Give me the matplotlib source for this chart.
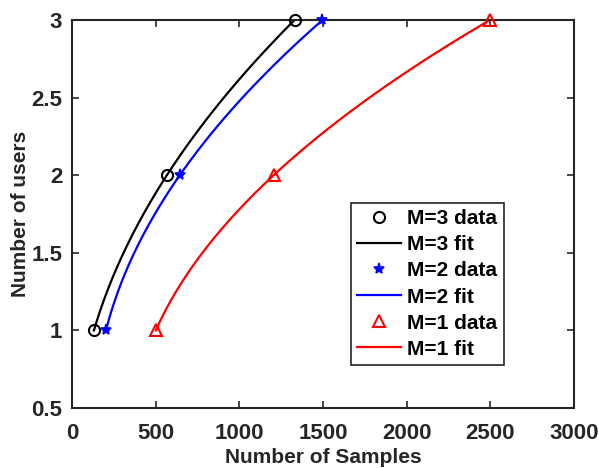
import numpy as np
import matplotlib
matplotlib.use("Agg")
import matplotlib.pyplot as plt

plt.rcParams['font.family'] = ['Liberation Sans', 'DejaVu Sans']
plt.rcParams['font.weight'] = 'bold'

users = [1, 2, 3]
samples_m3 = [131, 567, 1330]
samples_m2 = [203, 644, 1497]
samples_m1 = [501, 1205, 2498]

DARK = '#262626'


def fit_curve(xs, ys):
    # quadratic of samples in users, drawn as a smooth fit through the points
    coef = np.polyfit(ys, xs, 2)
    yy = np.linspace(min(ys), max(ys), 200)
    return np.polyval(coef, yy), yy


fig = plt.figure(figsize=(5.99, 4.68), dpi=100)
ax = fig.add_axes([72 / 599, 1 - 408 / 468, 502 / 599, 388 / 468])

series = [
    ("M=3", samples_m3, 'k', dict(marker='o', markersize=8, markerfacecolor='none',
                                  markeredgewidth=1.5)),
    ("M=2", samples_m2, 'b', dict(marker='*', markersize=8, markeredgewidth=1.2)),
    ("M=1", samples_m1, 'r', dict(marker='^', markersize=9, markerfacecolor='none',
                                  markeredgewidth=1.5)),
]

for name, xs, col, mk in series:
    ax.plot(xs, users, linestyle='none', color=col, label=f"{name} data",
            clip_on=False, zorder=4, **mk)
    fx, fy = fit_curve(xs, users)
    ax.plot(fx, fy, '-', color=col, linewidth=1.6, label=f"{name} fit")

ax.set_xlim(0, 3000)
ax.set_ylim(0.5, 3)
ax.set_xticks([0, 500, 1000, 1500, 2000, 2500, 3000])
ax.set_yticks([0.5, 1, 1.5, 2, 2.5, 3])
ax.set_yticklabels(['0.5', '1', '1.5', '2', '2.5', '3'])

ax.tick_params(axis='both', which='major', direction='in', length=5, width=1.2,
               labelsize=16, colors=DARK, top=True, right=True)
ax.tick_params(axis='x', pad=11)
ax.tick_params(axis='y', pad=7)
for lbl in ax.get_xticklabels() + ax.get_yticklabels():
    lbl.set_fontweight('bold')
for spine in ax.spines.values():
    spine.set_color(DARK)
    spine.set_linewidth(1.5)

ax.set_xlabel('Number of Samples', fontsize=15, fontweight='bold', color=DARK, labelpad=3)
ax.set_ylabel('Number of users', fontsize=15, fontweight='bold', color=DARK, labelpad=1)

leg = ax.legend(loc='lower left', bbox_to_anchor=(0.556, 0.111), borderaxespad=0,
                fancybox=False, framealpha=1, edgecolor=DARK,
                handlelength=2.1, handletextpad=0.3, labelspacing=0.34,
                borderpad=0.3, prop={'weight': 'bold', 'size': 15})
leg.get_frame().set_linewidth(1.2)
leg.set_zorder(5)

fig.savefig('out.png', dpi=100)
